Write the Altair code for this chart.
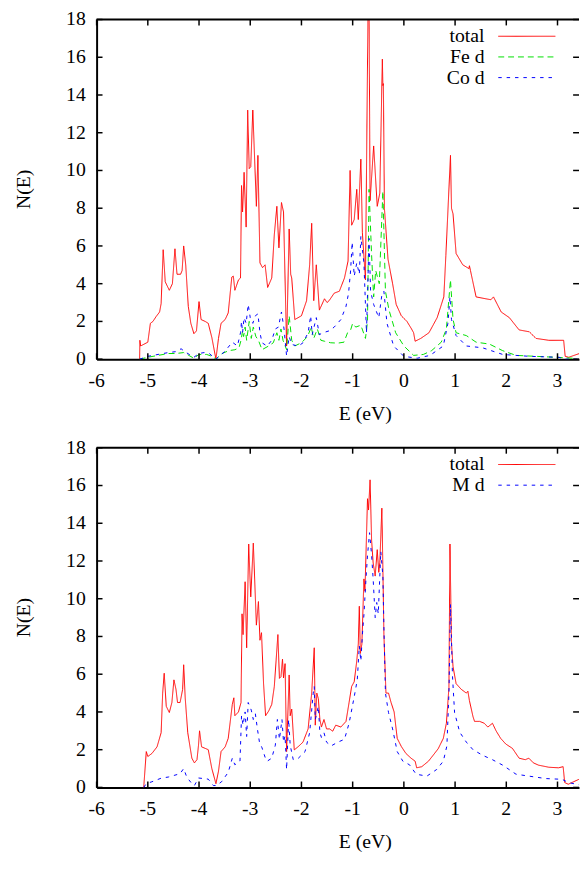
import altair as alt
import pandas as pd

# ---------------- data ----------------
xticks = [-6, -5, -4, -3, -2, -1, 0, 1, 2, 3]
yticks = [0, 2, 4, 6, 8, 10, 12, 14, 16, 18]

# top panel: total
top_total_E = [-5.16, -5.155, -5.14, -5.0, -4.95, -4.9, -4.84, -4.77, -4.74, -4.70, -4.66, -4.58, -4.52,
               -4.47, -4.43, -4.36, -4.33, -4.30, -4.26, -4.21, -4.16, -4.10, -4.05, -4.0, -3.96, -3.88, -3.82,
               -3.75, -3.67, -3.62, -3.57, -3.49, -3.43, -3.36, -3.33, -3.30, -3.23, -3.19, -3.17, -3.15, -3.12,
               -3.08, -3.05, -3.02, -2.99, -2.95, -2.88, -2.85, -2.81, -2.76, -2.71, -2.66, -2.58, -2.53, -2.48,
               -2.44, -2.39, -2.35, -2.29, -2.24, -2.21, -2.19, -2.13, -2.0, -1.90, -1.84, -1.80, -1.76, -1.71,
               -1.65, -1.55, -1.50, -1.46, -1.36, -1.26, -1.16, -1.09, -1.05, -1.02, -0.97, -0.92, -0.89, -0.84,
               -0.81, -0.75, -0.70, -0.68, -0.66, -0.59, -0.52, -0.47, -0.42, -0.41, -0.40, -0.38, -0.31, -0.22,
               -0.15, -0.05, 0.06, 0.15, 0.19, 0.22, 0.33, 0.49, 0.65, 0.78, 0.82, 0.91, 0.93, 0.96, 1.02, 1.15,
               1.27, 1.28, 1.30, 1.41, 1.60, 1.70, 1.75, 1.90, 2.06, 2.25, 2.45, 2.58, 2.83, 3.12, 3.15, 3.22, 3.48]
top_total_N = [0.0, 1.0, 0.7, 0.9, 1.9, 2.0, 2.25, 2.5, 2.95, 5.8, 4.1, 3.65, 4.0,
               5.85, 4.5, 4.5, 4.7, 6.0, 5.0, 2.8, 1.9, 1.35, 1.5, 3.05, 2.1, 2.0, 1.9,
               1.15, 0.0, 1.1, 1.9, 2.1, 2.45, 4.35, 4.4, 3.65, 4.2, 4.3, 9.2, 7.8, 9.9,
               7.0, 13.2, 10.1, 10.2, 13.2, 8.1, 10.8, 5.1, 4.85, 5.0, 3.8, 4.3, 6.6, 8.1,
               5.9, 8.3, 7.8, 0.7, 6.9, 4.5, 4.3, 2.1, 2.3, 3.1, 5.0, 7.2, 3.1, 5.0,
               2.6, 3.2, 3.0, 3.1, 3.5, 3.6, 4.3, 5.2, 10.0, 7.1, 7.4, 9.0, 7.4, 10.6,
               6.7, 4.2, 18.5, 18.5, 8.4, 11.3, 8.1, 8.8, 15.9, 14.5, 14.6, 8.0, 5.3, 4.0,
               2.9, 2.3, 2.0, 1.6, 1.4, 0.95, 1.1, 1.4, 2.2, 3.3, 5.5, 10.8, 8.0, 7.7, 5.6, 5.0,
               4.8, 4.95, 4.7, 3.3, 3.2, 3.15, 3.3, 2.5, 2.2, 1.55, 1.45, 1.1, 1.0, 1.0, 0.15, 0.1, 0.35]

# top panel: Fe d
top_fe_E = [-5.16, -5.0, -4.8, -4.6, -4.45, -4.3, -4.2, -4.1, -4.0, -3.85, -3.75, -3.67, -3.55, -3.42, -3.3,
            -3.22, -3.18, -3.15, -3.13, -3.10, -3.07, -3.02, -2.98, -2.94, -2.89, -2.84, -2.77, -2.64, -2.55,
            -2.48, -2.44, -2.40, -2.36, -2.29, -2.24, -2.19, -2.13, -2.0, -1.88, -1.81, -1.76, -1.69, -1.62,
            -1.55, -1.43, -1.29, -1.17, -1.10, -1.04, -1.0, -0.94, -0.84, -0.75, -0.71, -0.68, -0.63, -0.59,
            -0.55, -0.48, -0.41, -0.36, -0.29, -0.16, 0.0, 0.19, 0.38, 0.54, 0.73, 0.83, 0.91, 0.96, 1.02,
            1.22, 1.41, 1.67, 1.93, 2.19, 2.58, 2.96, 3.3]
top_fe_N = [0.0, 0.1, 0.2, 0.3, 0.3, 0.35, 0.2, 0.05, 0.25, 0.25, 0.15, 0.0, 0.3, 0.45, 0.5,
            0.6, 1.0, 1.5, 1.2, 1.7, 1.0, 2.0, 1.1, 1.7, 1.2, 1.0, 0.5, 0.7, 0.87,
            1.4, 1.0, 1.6, 1.0, 0.5, 2.3, 1.0, 0.7, 0.87, 1.2, 1.7, 1.1, 1.6, 1.0,
            0.95, 0.87, 0.85, 0.9, 1.4, 1.55, 1.9, 1.7, 1.8, 1.1, 2.0, 9.0, 5.5, 3.3,
            4.7, 4.0, 8.9, 3.6, 2.6, 1.4, 0.7, 0.2, 0.25, 0.45, 0.9, 1.6, 4.2, 2.1, 1.4,
            1.25, 0.9, 0.8, 0.45, 0.2, 0.15, 0.1, 0.05]

# top panel: Co d
top_co_E = [-5.16, -5.0, -4.8, -4.6, -4.45, -4.35, -4.25, -4.1, -4.0, -3.9, -3.8, -3.67, -3.5, -3.35, -3.25,
            -3.19, -3.17, -3.15, -3.12, -3.08, -3.04, -3.0, -2.95, -2.90, -2.85, -2.81, -2.77, -2.67, -2.58,
            -2.51, -2.45, -2.39, -2.34, -2.29, -2.24, -2.19, -2.06, -1.97, -1.87, -1.82, -1.79, -1.71, -1.65,
            -1.58, -1.46, -1.36, -1.23, -1.13, -1.08, -1.04, -1.01, -0.97, -0.92, -0.87, -0.84, -0.78, -0.73,
            -0.68, -0.65, -0.59, -0.49, -0.43, -0.39, -0.33, -0.20, 0.0, 0.26, 0.51, 0.77, 0.86, 0.90, 0.93,
            1.02, 1.22, 1.54, 1.93, 2.45, 3.03, 3.15, 3.48]
top_co_N = [0.0, 0.15, 0.25, 0.35, 0.4, 0.55, 0.35, 0.1, 0.3, 0.35, 0.3, 0.0, 0.4, 0.9, 0.7,
            1.4, 2.0, 1.4, 2.2, 1.9, 2.9, 2.2, 1.9, 2.3, 2.4, 1.4, 0.87, 0.69, 1.0,
            1.6, 1.7, 2.5, 1.6, 0.17, 1.2, 0.78, 0.69, 0.87, 1.4, 2.3, 1.3, 2.2, 1.3,
            1.4, 1.5, 1.7, 2.1, 2.8, 3.5, 4.7, 6.2, 4.4, 5.1, 4.5, 6.5, 5.1, 1.4,
            6.4, 3.6, 2.9, 2.2, 3.4, 3.6, 1.9, 0.7, 0.15, 0.05, 0.2, 0.7, 1.9, 3.3, 2.1,
            1.25, 0.7, 0.6, 0.25, 0.15, 0.1, 0.0, 0.0]

# bottom panel: total
bot_total_E = [-5.08, -5.03, -5.0, -4.92, -4.82, -4.74, -4.71, -4.68, -4.64, -4.58, -4.53, -4.49, -4.45,
               -4.42, -4.37, -4.32, -4.30, -4.27, -4.22, -4.14, -4.09, -4.04, -4.01, -3.99, -3.95, -3.88, -3.82,
               -3.75, -3.67, -3.62, -3.57, -3.49, -3.43, -3.35, -3.32, -3.30, -3.23, -3.18, -3.16, -3.14, -3.10,
               -3.07, -3.03, -2.99, -2.94, -2.88, -2.84, -2.81, -2.78, -2.74, -2.70, -2.64, -2.58, -2.53, -2.46,
               -2.43, -2.40, -2.37, -2.35, -2.32, -2.29, -2.24, -2.22, -2.19, -2.14, -2.06, -1.97, -1.87, -1.80,
               -1.75, -1.73, -1.70, -1.67, -1.64, -1.61, -1.56, -1.51, -1.45, -1.39, -1.33, -1.23, -1.13, -1.07,
               -1.02, -0.97, -0.92, -0.89, -0.87, -0.85, -0.82, -0.78, -0.76, -0.71, -0.69, -0.66, -0.63, -0.60,
               -0.56, -0.52, -0.49, -0.47, -0.43, -0.41, -0.39, -0.35, -0.30, -0.25, -0.19, -0.13, -0.05, 0.04,
               0.14, 0.22, 0.25, 0.35, 0.48, 0.57, 0.67, 0.77, 0.83, 0.88, 0.90, 0.93, 0.96, 1.02, 1.12, 1.22,
               1.25, 1.28, 1.35, 1.38, 1.48, 1.57, 1.64, 1.73, 1.80, 1.89, 1.99, 2.12, 2.25, 2.37, 2.44, 2.53,
               2.63, 2.83, 3.02, 3.11, 3.14, 3.21, 3.49]
bot_total_N = [0.0, 1.9, 1.64, 1.8, 2.15, 2.9, 5.0, 6.05, 4.3, 3.97, 4.5, 5.7, 5.2,
               4.5, 4.5, 5.2, 6.5, 4.75, 2.9, 1.55, 1.3, 1.47, 2.24, 3.0, 2.15, 2.07, 2.0,
               1.0, 0.2, 0.86, 1.9, 2.15, 2.6, 4.4, 4.75, 3.8, 4.0, 4.5, 9.2, 8.1, 10.9,
               7.4, 12.9, 10.1, 12.95, 8.6, 9.85, 7.8, 8.2, 5.5, 3.8, 4.05, 4.4, 5.35, 8.1,
               5.78, 5.87, 6.8, 5.8, 6.56, 1.9, 5.96, 3.8, 4.15, 1.99, 2.17, 2.4, 3.1, 5.0,
               7.4, 3.3, 5.0, 4.7, 3.6, 3.2, 3.6, 3.1, 3.1, 2.98, 3.3, 3.2, 3.5, 4.5,
               5.35, 5.6, 6.7, 7.6, 9.6, 7.1, 7.6, 11.05, 10.4, 15.3, 14.7, 16.3, 13.1, 11.9,
               11.2, 12.6, 11.4, 11.9, 14.8, 11.6, 8.1, 5.0, 5.0, 4.5, 4.0, 2.6, 2.17, 1.8,
               1.55, 1.39, 1.04, 1.1, 1.39, 1.7, 2.05, 2.6, 3.4, 5.3, 12.9, 7.6, 6.4, 5.5, 5.2, 5.0,
               5.1, 4.6, 3.75, 3.5, 3.5, 3.4, 3.2, 3.4, 3.0, 2.6, 2.3, 2.07, 1.55, 1.47, 1.55, 1.3,
               1.18, 1.07, 1.04, 1.1, 0.26, 0.17, 0.52]

# bottom panel: M d
bot_m_E = [-5.08, -5.03, -4.92, -4.73, -4.60, -4.47, -4.37, -4.30, -4.24, -4.14, -4.09, -4.01, -3.91, -3.82,
           -3.72, -3.66, -3.56, -3.43, -3.35, -3.30, -3.20, -3.17, -3.14, -3.10, -3.07, -3.04, -2.98, -2.94,
           -2.90, -2.86, -2.82, -2.77, -2.71, -2.67, -2.58, -2.51, -2.47, -2.43, -2.38, -2.35, -2.32, -2.29,
           -2.25, -2.22, -2.16, -2.06, -1.93, -1.84, -1.77, -1.75, -1.73, -1.67, -1.64, -1.61, -1.56, -1.51,
           -1.42, -1.29, -1.16, -1.07, -0.97, -0.91, -0.87, -0.84, -0.81, -0.78, -0.74, -0.71, -0.67, -0.63,
           -0.60, -0.56, -0.53, -0.50, -0.45, -0.41, -0.39, -0.36, -0.30, -0.22, -0.13, -0.02, 0.11, 0.24,
           0.45, 0.64, 0.77, 0.84, 0.88, 0.91, 0.95, 0.99, 1.09, 1.22, 1.35, 1.54, 1.73, 1.93, 2.19, 2.44,
           2.77, 3.09, 3.21, 3.49]
bot_m_N = [0.0, 0.2, 0.3, 0.5, 0.55, 0.65, 0.73, 1.0, 0.55, 0.2, 0.1, 0.5, 0.47, 0.44,
           0.1, 0.1, 0.3, 0.8, 1.55, 1.2, 1.4, 3.8, 3.3, 4.0, 2.7, 4.5, 4.1, 3.6,
           3.9, 3.1, 2.4, 2.1, 1.6, 1.39, 1.55, 2.24, 3.6, 2.55, 3.6, 2.4, 2.74, 0.95,
           3.6, 2.24, 1.47, 1.55, 1.9, 2.9, 5.0, 5.35, 3.6, 4.3, 2.9, 2.65, 2.9, 2.4,
           2.2, 2.4, 2.55, 3.4, 4.8, 5.7, 7.5, 6.7, 8.1, 9.15, 11.05, 12.3, 13.5, 12.3,
           11.05, 9.0, 9.8, 9.2, 12.5, 11.2, 8.5, 5.0, 3.97, 3.1, 1.9, 1.39, 1.2, 0.7,
           0.6, 0.95, 1.39, 2.2, 5.0, 9.7, 5.87, 3.97, 2.93, 2.4, 2.0, 1.7, 1.47, 1.18, 0.7, 0.6,
           0.47, 0.43, 0.26, 0.1]

X_TITLE = "E (eV)"
Y_TITLE = "N(E)"

# ---------------- styling ----------------
FONT = "Liberation Serif"
FS = 20
W, H = 490, 345
X_DOMAIN = [-6, 3.42]
Y_DOMAIN = [0, 18]
RED, GREEN, BLUE = "#ff0000", "#00e000", "#0000ff"

xscale = alt.Scale(domain=X_DOMAIN, nice=False, zero=False)
yscale = alt.Scale(domain=Y_DOMAIN, nice=False)

# axes only draw the frame lines; labels are drawn as text through the same scales
xaxis = alt.Axis(labels=False, ticks=False, title=None, grid=False,
                 domain=True, domainWidth=2, domainColor="black")
yaxis = alt.Axis(labels=False, ticks=False, title=None, grid=False,
                 domain=True, domainWidth=2, domainColor="black")
txt = dict(font=FONT, fontSize=FS, color="black")


def series(E, N, color, dash):
    df = pd.DataFrame({"E": E, "N": N})
    return alt.Chart(df).mark_line(color=color, strokeDash=dash, strokeWidth=1, clip=True).encode(
        x=alt.X("E:Q", scale=xscale, axis=xaxis),
        y=alt.Y("N:Q", scale=yscale, axis=yaxis),
    )


def frame_layers():
    xt = pd.DataFrame({"t": xticks, "lab": [str(v) for v in xticks]})
    yt = pd.DataFrame({"t": yticks, "lab": [str(v) for v in yticks]})
    tick = dict(color="black", strokeWidth=1.5)
    X = alt.X("t:Q", scale=xscale, axis=xaxis)
    Y = alt.Y("t:Q", scale=yscale, axis=yaxis)
    return [
        alt.Chart(xt).mark_rule(**tick).encode(x=X, y=alt.value(H - 6), y2=alt.value(H)),
        alt.Chart(xt).mark_rule(**tick).encode(x=X, y=alt.value(0), y2=alt.value(6)),
        alt.Chart(yt).mark_rule(**tick).encode(y=Y, x=alt.value(0), x2=alt.value(6)),
        alt.Chart(yt).mark_rule(**tick).encode(y=Y, x=alt.value(W - 6), x2=alt.value(W)),
        # top border of the frame
        alt.Chart(pd.DataFrame({"t": [0]})).mark_rule(color="black", strokeWidth=2).encode(
            x=alt.value(0), x2=alt.value(W), y=alt.value(0)),
        # tick labels
        alt.Chart(xt).mark_text(align="center", baseline="middle", **txt).encode(
            x=X, y=alt.value(H + 22), text="lab:N"),
        alt.Chart(yt).mark_text(align="right", baseline="middle", **txt).encode(
            y=Y, x=alt.value(-11), text="lab:N"),
        # axis titles
        alt.Chart(pd.DataFrame({"s": [X_TITLE]})).mark_text(align="center", baseline="middle", **txt).encode(
            text="s:N", x=alt.value(273), y=alt.value(H + 56)),
        alt.Chart(pd.DataFrame({"s": [Y_TITLE]})).mark_text(align="center", baseline="middle", angle=270,
                                                            **txt).encode(
            text="s:N", x=alt.value(-74), y=alt.value(H / 2)),
    ]


def legend_layers(items):
    layers = []
    for i, (name, color, dash) in enumerate(items):
        yy = 17 + 21 * i
        layers.append(
            alt.Chart(pd.DataFrame({"label": [name]})).mark_text(
                align="right", baseline="middle", **txt
            ).encode(text="label:N", x=alt.value(394), y=alt.value(yy))
        )
        layers.append(
            alt.Chart(pd.DataFrame({"label": [name]})).mark_rule(
                color=color, strokeDash=dash, strokeWidth=1
            ).encode(x=alt.value(408), x2=alt.value(466), y=alt.value(yy))
        )
    return layers


SOLID = [1, 0]
DASH = [6, 4]
DOT = [3.5, 5]

top = alt.layer(
    series(top_total_E, top_total_N, RED, SOLID),
    series(top_fe_E, top_fe_N, GREEN, DASH),
    series(top_co_E, top_co_N, BLUE, DOT),
    *frame_layers(),
    *legend_layers([("total", RED, SOLID), ("Fe d", GREEN, DASH), ("Co d", BLUE, DOT)]),
).properties(width=W, height=H)

bottom = alt.layer(
    series(bot_total_E, bot_total_N, RED, SOLID),
    series(bot_m_E, bot_m_N, BLUE, DOT),
    *frame_layers(),
    *legend_layers([("total", RED, SOLID), ("M d", BLUE, DOT)]),
).properties(width=W, height=H)

chart = alt.vconcat(top, bottom, spacing=14).properties(
    padding={"left": 6, "top": -5, "right": 0, "bottom": 0}
).configure(background="white", font=FONT).configure_view(stroke=None)

chart.save("out.html", embed_options={"renderer": "svg", "actions": False})
